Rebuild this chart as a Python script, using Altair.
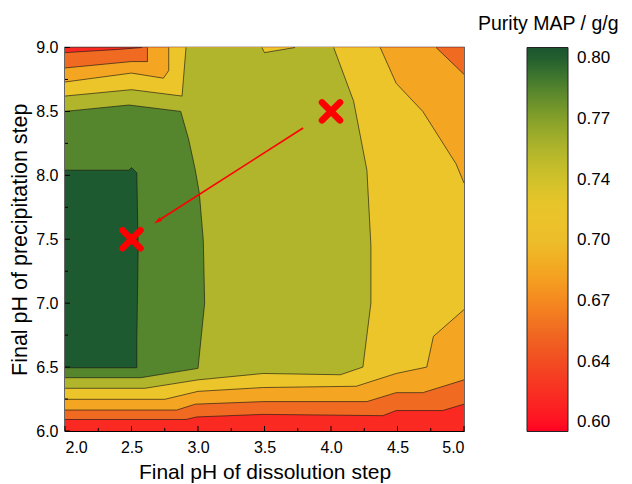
import altair as alt
import pandas as pd

# ---------------- data ----------------
x_major = [2.0, 2.5, 3.0, 3.5, 4.0, 4.5, 5.0]
x_minor = [2.25, 2.75, 3.25, 3.75, 4.25, 4.75]
y_major = [6.0, 6.5, 7.0, 7.5, 8.0, 8.5, 9.0]
y_minor = [6.25, 6.75, 7.25, 7.75, 8.25, 8.75]

cbar_ticks = [0.6000, 0.6333, 0.6667, 0.7000, 0.7333, 0.7667, 0.8000]
cbar_labels = ["0.60", "0.64", "0.67", "0.70", "0.74", "0.77", "0.80"]

# contour levels: 0.633, 0.667, 0.700, 0.733, 0.767, 0.800
# value of each filled band (below L1, L1-L2, ..., above L6)
band_values = [0.615, 0.650, 0.683, 0.717, 0.750, 0.783, 0.803]

cmap_domain = [0.595, 0.615, 0.633, 0.650, 0.667, 0.683, 0.700, 0.717,
               0.733, 0.750, 0.767, 0.783, 0.800, 0.806]
cmap_range = ["#ff0022", "#fa2a22", "#f24a22", "#f06a22", "#f58a20", "#f4a622",
              "#ecbe2a", "#ecc52a", "#d2c22a", "#b0b52b", "#86a02a", "#55852c",
              "#235f2e", "#1a5530"]

# contour line paths (x = dissolution pH, y = precipitation pH)
L1_bottom = [(2.0, 6.09), (2.91, 6.09), (2.99, 6.11), (3.49, 6.13), (4.39, 6.12),
             (4.49, 6.16), (4.84, 6.16), (5.0, 6.21)]
L1_corner = [(2.0, 8.96), (2.40, 8.985), (2.58, 9.0)]
L2_bottom = [(2.0, 6.164), (2.84, 6.164), (2.98, 6.21), (3.49, 6.23), (4.27, 6.23),
             (4.49, 6.30), (4.69, 6.30), (5.0, 6.40)]
L2_right = [(4.79, 9.0), (5.0, 8.79)]
L2_left = [(2.62, 9.0), (2.62, 8.89), (2.5, 8.89), (2.0, 8.84)]
L3_bottom = [(2.0, 6.248), (2.75, 6.248), (3.0, 6.31), (3.49, 6.34), (4.19, 6.35),
             (4.49, 6.45), (4.72, 6.50), (4.77, 6.74), (5.0, 6.95)]
L3_right = [(4.37, 9.0), (4.49, 8.72), (4.69, 8.50), (4.94, 8.09), (5.0, 7.94)]
L3_left = [(2.78, 9.0), (2.78, 8.82), (2.74, 8.76), (2.5, 8.80), (2.0, 8.73)]
L4_main = [(2.0, 6.334), (2.6, 6.334), (3.0, 6.40), (3.49, 6.45), (4.07, 6.44),
           (4.24, 6.50), (4.30, 7.0), (4.30, 7.45), (4.27, 8.04), (4.17, 8.58),
           (4.02, 9.0)]
L4_notch = [(3.48, 9.0), (3.50, 8.96), (3.73, 9.0)]
L4_left = [(2.91, 9.0), (2.88, 8.62), (2.5, 8.67), (2.0, 8.62)]
L5 = [(2.0, 6.417), (2.57, 6.417), (3.0, 6.49), (3.05, 7.0), (3.04, 7.49),
      (3.01, 7.86), (2.98, 8.04), (2.93, 8.28), (2.87, 8.50), (2.48, 8.55),
      (2.0, 8.50)]
L6 = [(2.0, 6.495), (2.54, 6.495), (2.54, 6.71), (2.55, 7.42), (2.54, 8.02),
      (2.50, 8.06), (2.48, 8.04), (2.0, 8.04)]

# annotations
marker_x = [2.5, 4.0]
marker_y = [7.5, 8.5]
arrow_x = [3.79, 2.70]
arrow_y = [8.37, 7.645]
arrowhead_x = [2.695]
arrowhead_y = [7.64]


def rev(p):
    return list(reversed(p))


regions = [
    [(2.0, 6.0), (5.0, 6.0), (5.0, 9.0), (2.0, 9.0)],
    L1_bottom + [(5.0, 9.0)] + rev(L1_corner),
    L2_bottom + rev(L2_right) + L2_left,
    L3_bottom + rev(L3_right) + L3_left,
    L4_main + rev(L4_notch) + L4_left,
    L5,
    L6,
]
poly_rows = []
for k, pts in enumerate(regions):
    for i, (x, y) in enumerate(pts):
        poly_rows.append({"poly": k, "level": band_values[k], "i": i, "x": x, "y": y})
poly_df = pd.DataFrame(poly_rows)

lines = {"L1a": L1_bottom, "L1b": L1_corner, "L2a": L2_bottom, "L2b": L2_right,
         "L2c": L2_left, "L3a": L3_bottom, "L3b": L3_right, "L3c": L3_left,
         "L4a": L4_main, "L4b": L4_notch, "L4c": L4_left, "L5": L5, "L6": L6}
line_rows = []
for name, pts in lines.items():
    for i, (x, y) in enumerate(pts):
        line_rows.append({"line": name, "i": i, "x": x, "y": y})
line_df = pd.DataFrame(line_rows)

# ---------------- chart ----------------
W, H = 399, 383.5
FONT = "Liberation Sans"

xs = alt.Scale(domain=[2.0, 5.0], nice=False, zero=False)
ys = alt.Scale(domain=[6.0, 9.0], nice=False, zero=False)
x_axis = alt.Axis(values=x_major, format=".1f", title="Final pH of dissolution step",
                  ticks=False, grid=False, labelPadding=8, titlePadding=6,
                  labelFont=FONT, titleFont=FONT, labelFontSize=16, titleFontSize=21,
                  titleFontWeight="normal", labelColor="black", titleColor="black",
                  domainColor="black")
y_axis = alt.Axis(values=y_major, format=".1f", title="Final pH of precipitation step",
                  ticks=False, grid=False, labelPadding=7, titlePadding=4,
                  labelFont=FONT, titleFont=FONT, labelFontSize=16, titleFontSize=21.5,
                  titleFontWeight="normal", labelColor="black", titleColor="black",
                  domainColor="black")
X = alt.X("x:Q", scale=xs, axis=x_axis)
Y = alt.Y("y:Q", scale=ys, axis=y_axis)

label_expr = "datum.label"
for t, lab in zip(cbar_ticks, cbar_labels):
    label_expr = f"abs(datum.value - {t}) < 0.002 ? '{lab}' : ({label_expr})"

legend = alt.Legend(title=None, orient="none", legendX=462, legendY=0,
                    direction="vertical", gradientLength=384, gradientThickness=41,
                    values=cbar_ticks, format=".2f", labelExpr=label_expr,
                    labelFontSize=17, labelFont=FONT, labelColor="black",
                    labelOffset=9, labelOverlap=False,
                    gradientStrokeColor="#222222", gradientStrokeWidth=1)
cscale = alt.Scale(domain=cmap_domain, range=cmap_range, clamp=True)
color = alt.Color("level:Q", scale=cscale, legend=legend)

layers = []
for k in range(len(regions)):
    layers.append(
        alt.Chart(poly_df).transform_filter(alt.datum.poly == k)
        .mark_line(filled=True, interpolate="linear-closed", strokeWidth=0)
        .encode(x=X, y=Y, color=color, order="i:Q", detail="poly:N")
    )

layers.append(
    alt.Chart(line_df).mark_line(color="#151515", strokeWidth=0.7, opacity=0.9)
    .encode(x=X, y=Y, detail="line:N", order="i:Q")
)

# inward tick marks
layers.append(alt.Chart(pd.DataFrame({"x": x_major})).mark_rule(color="black", strokeWidth=1)
              .encode(x=X, y=alt.value(H), y2=alt.value(H - 5)))
layers.append(alt.Chart(pd.DataFrame({"x": x_minor})).mark_rule(color="black", strokeWidth=1)
              .encode(x=X, y=alt.value(H), y2=alt.value(H - 3)))
layers.append(alt.Chart(pd.DataFrame({"y": y_major})).mark_rule(color="black", strokeWidth=1)
              .encode(y=Y, x=alt.value(0), x2=alt.value(5)))
layers.append(alt.Chart(pd.DataFrame({"y": y_minor})).mark_rule(color="black", strokeWidth=1)
              .encode(y=Y, x=alt.value(0), x2=alt.value(3)))

# arrow and markers
layers.append(alt.Chart(pd.DataFrame({"x": arrow_x, "y": arrow_y, "i": [0, 1]}))
              .mark_line(color="#ff0000", strokeWidth=1.6)
              .encode(x=X, y=Y, order="i:Q"))
layers.append(alt.Chart(pd.DataFrame({"x": arrowhead_x, "y": arrowhead_y}))
              .mark_point(shape="M0,-1L0.55,1L-0.55,1Z", angle=236.5, size=64, filled=True,
                          color="#ff0000", opacity=1)
              .encode(x=X, y=Y))
layers.append(alt.Chart(pd.DataFrame({"x": marker_x, "y": marker_y}))
              .mark_point(shape="M-1,-1L1,1M-1,1L1,-1", size=324, filled=False,
                          color="#ff0000", strokeWidth=6.5, strokeCap="round", opacity=1)
              .encode(x=X, y=Y))

chart = (
    alt.layer(*layers)
    .properties(
        width=W, height=H,
        background="white",
        title=alt.TitleParams("Purity MAP / g/g", anchor="start", frame="group",
                              dx=413, offset=5, fontSize=19.5, fontWeight="normal",
                              font=FONT, color="black"),
        padding={"left": 57, "top": 39.5, "right": 160, "bottom": 52},
        autosize=alt.AutoSizeParams(type="none"),
    )
    .configure_view(stroke="#333333", strokeWidth=1.5)
)

chart.save("out.html", embed_options={"renderer": "svg", "actions": False})
